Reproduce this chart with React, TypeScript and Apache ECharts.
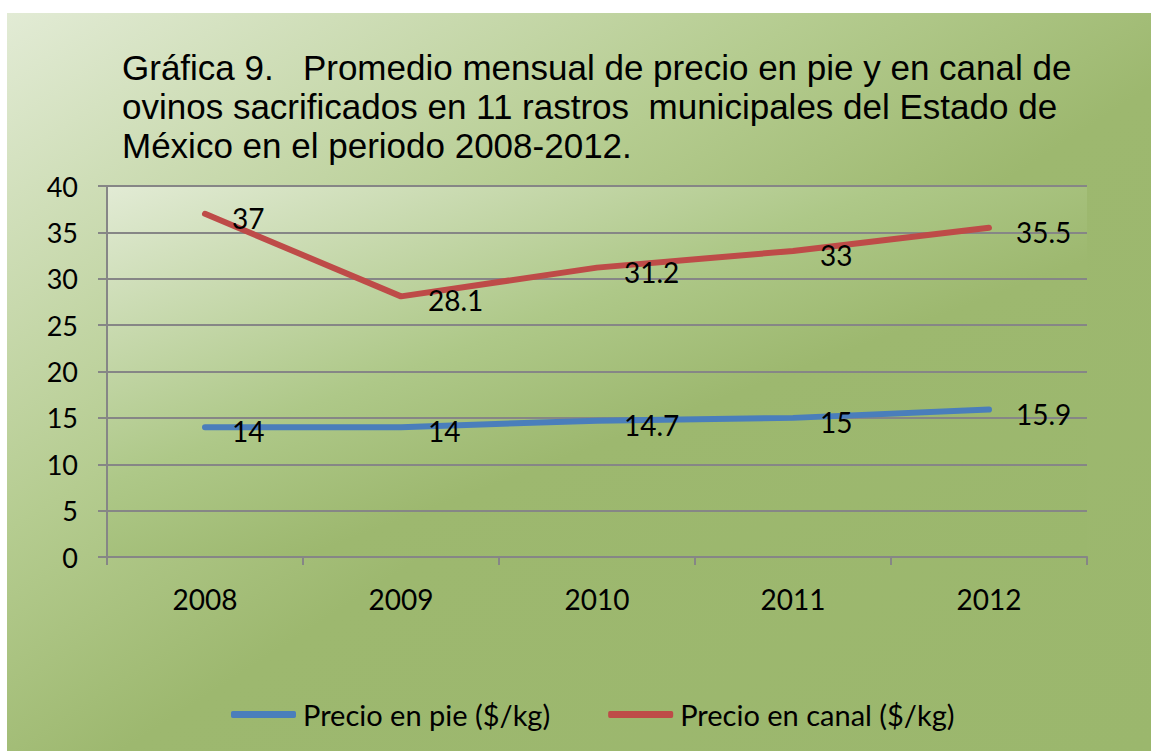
import React, { useEffect, useRef } from "react";
import * as echarts from "echarts";

const titleLines = [
  "Gráfica 9.   Promedio mensual de precio en pie y en canal de",
  "ovinos sacrificados en 11 rastros  municipales del Estado de",
  "México en el periodo 2008-2012.",
];
const years = ["2008", "2009", "2010", "2011", "2012"];
const precioPie = [14, 14, 14.7, 15, 15.9];
const precioCanal = [37, 28.1, 31.2, 33, 35.5];
const seriesNames = ["Precio en pie ($/kg)", "Precio en canal ($/kg)"];
const seriesColors = ["#4a7ebb", "#be4b48"];

export default function App() {
  const ref = useRef<HTMLDivElement>(null);
  useEffect(() => {
    if (!ref.current) return;
    const chart = echarts.init(ref.current, null, { renderer: "svg" });
    const labelFont = "Lato, 'Open Sans', sans-serif";
    const makeSeries = (i: number, data: number[]) => ({
      name: seriesNames[i],
      type: "line",
      data,
      symbol: "circle",
      symbolSize: 0.01,
      showSymbol: true,
      color: seriesColors[i],
      itemStyle: { color: seriesColors[i] },
      lineStyle: { width: 6, color: seriesColors[i], cap: "round", join: "round" },
      label: {
        show: true,
        position: "right",
        distance: 27,
        offset: [0, 4],
        fontFamily: labelFont,
        fontSize: 28,
        color: "#000",
      },
    });
    chart.setOption({
      animation: false,
      backgroundColor: new echarts.graphic.LinearGradient(0, 0, 1, 1, [
        { offset: 0, color: "#e2ebd5" },
        { offset: 0.35, color: "#b5cc90" },
        { offset: 0.55, color: "#9db86f" },
        { offset: 1, color: "#9bb76d" },
      ]),
      title: {
        text: titleLines.join("\n"),
        left: 110,
        top: 30,
        textStyle: {
          fontFamily: "'Liberation Sans', Arial, sans-serif",
          fontSize: 35,
          fontWeight: "normal",
          color: "#000",
          lineHeight: 39,
        },
      },
      legend: {
        top: 682,
        left: 219,
        itemWidth: 65,
        itemHeight: 7,
        itemGap: 58,
        icon: "roundRect",
        textStyle: { fontFamily: labelFont, fontSize: 29, color: "#000", padding: [0, 0, 0, 2] },
        data: seriesNames,
      },
      grid: {
        left: 100,
        right: 64,
        top: 173,
        bottom: 194,
        show: true,
        borderWidth: 0,
        backgroundColor: new echarts.graphic.LinearGradient(0, 0, 1, 1, [
          { offset: 0, color: "#e2ebd5" },
          { offset: 0.4, color: "#aec888" },
          { offset: 0.6, color: "#9db86f" },
          { offset: 1, color: "#9bb76d" },
        ]),
      },
      xAxis: {
        type: "category",
        data: years,
        boundaryGap: true,
        axisLine: { lineStyle: { color: "#868686", width: 2 } },
        axisTick: { show: true, length: 8, lineStyle: { color: "#868686", width: 2 } },
        axisLabel: { fontFamily: labelFont, fontSize: 28, color: "#000", margin: 28 },
      },
      yAxis: {
        type: "value",
        min: 0,
        max: 40,
        interval: 5,
        axisLine: { show: true, lineStyle: { color: "#868686", width: 2 } },
        axisTick: { show: true, length: 9, lineStyle: { color: "#868686", width: 2 } },
        splitLine: { lineStyle: { color: "#868686", width: 2 } },
        axisLabel: { fontFamily: labelFont, fontSize: 27, color: "#000", margin: 29 },
      },
      series: [makeSeries(0, precioPie), makeSeries(1, precioCanal)],
    });
    return () => chart.dispose();
  }, []);
  return (
    <div
      ref={ref}
      style={{ position: "absolute", left: 7, top: 13, width: 1144, height: 738 }}
    />
  );
}
